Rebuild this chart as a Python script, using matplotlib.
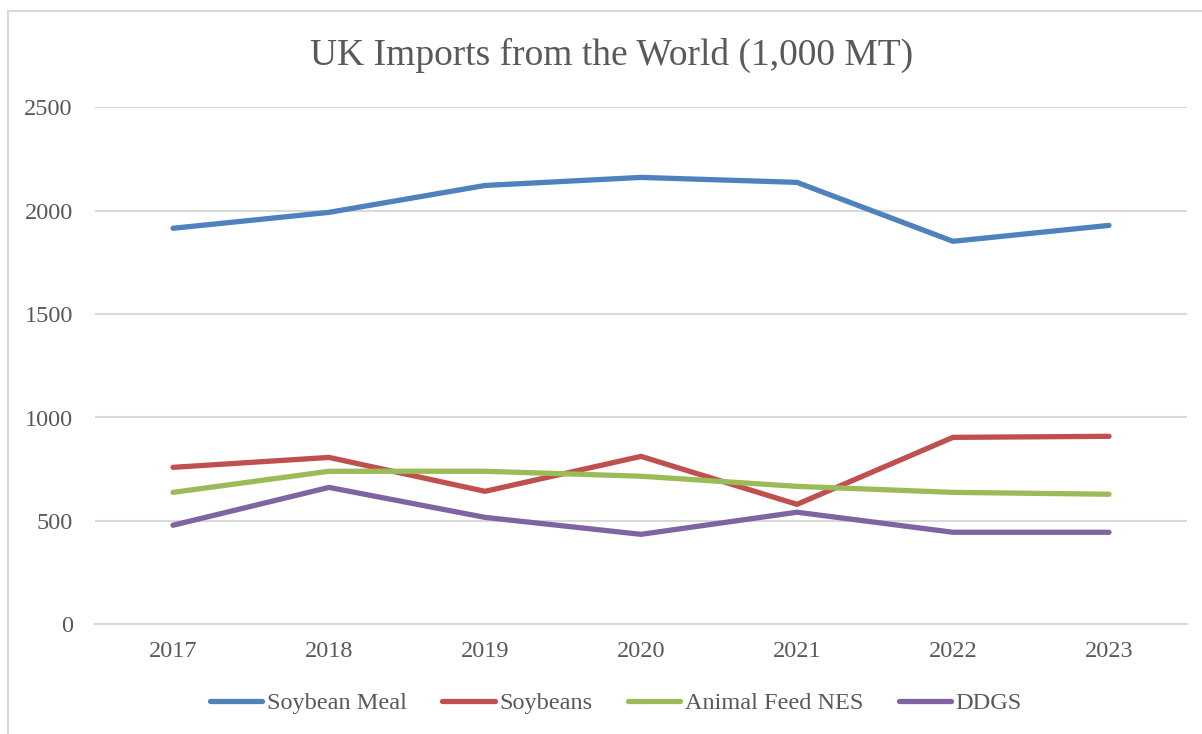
import matplotlib
matplotlib.use('Agg')
import matplotlib.pyplot as plt
from matplotlib.patches import Rectangle

years = ['2017', '2018', '2019', '2020', '2021', '2022', '2023']
soybean_meal = [1915, 1992, 2122, 2161, 2137, 1852, 1929]
soybeans = [759, 807, 643, 812, 580, 904, 909]
animal_feed = [638, 740, 740, 716, 667, 638, 629]
ddgs = [479, 662, 517, 435, 542, 445, 445]

series = [
    ('Soybean Meal', soybean_meal, '#4F81BD'),
    ('Soybeans', soybeans, '#C0504D'),
    ('Animal Feed NES', animal_feed, '#9BBB59'),
    ('DDGS', ddgs, '#8064A2'),
]

plt.rcParams['font.family'] = ['Liberation Serif', 'DejaVu Serif']
text_color = '#595959'
grid_color = '#D9D9D9'

fig = plt.figure(figsize=(12.02, 7.34), dpi=100)
ax = fig.add_axes([95 / 1202, 1 - 624.3 / 734, (1187 - 95) / 1202, (624.3 - 107.3) / 734])

x = list(range(len(years)))
for name, values, color in series:
    ax.plot(x, values, color=color, linewidth=3.8, solid_capstyle='round',
            solid_joinstyle='round', label=name)

ax.set_xlim(-0.5, len(years) - 0.5)
ax.set_ylim(0, 2500)
ax.set_yticks([0, 500, 1000, 1500, 2000, 2500])
ax.set_xticks(x)
ax.set_xticklabels(years)
ax.yaxis.grid(True, color=grid_color, linewidth=1.5)
ax.set_axisbelow(True)
for side in ['top', 'right', 'left']:
    ax.spines[side].set_visible(False)
ax.spines['bottom'].set_color(grid_color)
ax.spines['bottom'].set_linewidth(1.5)
ax.tick_params(axis='both', length=0, labelsize=17.5, colors=text_color)
ax.tick_params(axis='y', pad=16)
ax.tick_params(axis='x', pad=12)

fig.text(612 / 1202, 1 - 55 / 734, 'UK Imports from the World (1,000 MT)',
         ha='center', va='center', fontsize=27, color=text_color)

fig.legend(loc='center', bbox_to_anchor=(616 / 1202, 1 - 703 / 734), ncol=4,
           frameon=False, fontsize=17.5, handlelength=2.15, handletextpad=0.2,
           columnspacing=1.45, labelcolor=text_color)

border = Rectangle((8 / 1202, -0.1), 1.2, (734 - 11) / 734 + 0.1,
                   transform=fig.transFigure, fill=False,
                   edgecolor=grid_color, linewidth=1.5, clip_on=False)
fig.patches.append(border)

fig.savefig('out.png', dpi=100, facecolor='white')
